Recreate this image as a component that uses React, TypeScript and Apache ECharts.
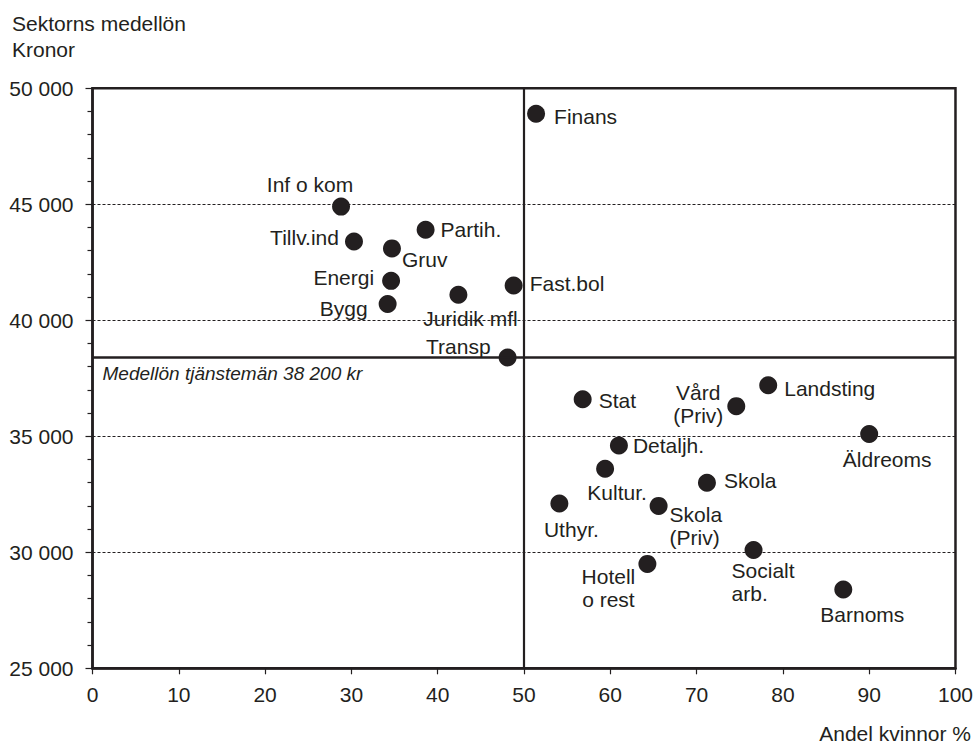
import React, { useEffect, useRef } from "react";
import * as echarts from "echarts";

const sectors = [
  "Finans", "Inf o kom", "Tillv.ind", "Partih.", "Gruv", "Energi", "Bygg",
  "Juridik mfl", "Fast.bol", "Transp", "Stat", "Vård\n(Priv)", "Landsting",
  "Äldreoms", "Detaljh.", "Kultur.", "Skola", "Uthyr.", "Skola\n(Priv)",
  "Socialt\narb.", "Hotell\no rest", "Barnoms",
];
const shareWomen = [
  51.4, 28.8, 30.3, 38.6, 34.7, 34.6, 34.2, 42.4, 48.8, 48.1, 56.8, 74.6, 78.3,
  90.0, 61.0, 59.4, 71.2, 54.1, 65.6, 76.6, 64.3, 87.0,
];
const medianWage = [
  48900, 44900, 43400, 43900, 43100, 41700, 40700, 41100, 41500, 38400, 36600,
  36300, 37200, 35100, 34600, 33600, 33000, 32100, 32000, 30100, 29500, 28400,
];
const averageLine = 38400;
const averageLabel = "Medellön tjänstemän 38 200 kr";
const womenSplit = 50;
const xTicks = { min: 0, max: 100, interval: 10 };
const yTicks = { min: 25000, max: 50000, interval: 5000 };

// label placement: [dx, dy, align] relative to the dot centre
const labelLayout: [number, number, string][] = [
  [18, 3, "left"], [-31, -22, "center"], [-15, -4, "right"], [15, 0, "left"],
  [10, 11, "left"], [-17, -3, "right"], [-20, 4, "right"], [12, 24, "center"],
  [16, -2, "left"], [-17, -11, "right"], [16, 1, "left"], [-38, -2, "center"],
  [16, 3, "left"], [18, 26, "center"], [14, 0, "left"], [12, 24, "center"],
  [17, -2, "left"], [12, 26, "center"], [11, 20, "left"], [-22, 32, "left"],
  [-39, 24, "center"], [19, 25, "center"],
];

const INK = "#231f20";
const FONT = "'Liberation Sans', Arial, Helvetica, sans-serif";
const FS = 21;

const fmt = (v: number) => String(v).replace(/\B(?=(\d{3})+(?!\d))/g, " ");

export default function App() {
  const ref = useRef<HTMLDivElement>(null);
  useEffect(() => {
    if (!ref.current) return;
    const chart = echarts.init(ref.current, undefined, { renderer: "svg" });
    const data = sectors.map((name, i) => ({
      name,
      value: [shareWomen[i], medianWage[i]],
      label: {
        show: true,
        formatter: name,
        position: "inside",
        align: labelLayout[i][2],
        verticalAlign: "middle",
        offset: [labelLayout[i][0], labelLayout[i][1]],
        color: INK,
        fontSize: FS,
        fontFamily: FONT,
        lineHeight: 23,
      },
    }));
    chart.setOption({
      animation: false,
      backgroundColor: "#ffffff",
      textStyle: { fontFamily: FONT, color: INK },
      grid: {
        left: 92.5,
        top: 88.3,
        width: 863,
        height: 580,
        show: true,
        borderColor: INK,
        borderWidth: 2.5,
        backgroundColor: "transparent",
      },
      xAxis: {
        type: "value",
        min: xTicks.min,
        max: xTicks.max,
        interval: xTicks.interval,
        axisLine: { show: true, lineStyle: { color: INK, width: 2.5 } },
        axisTick: { show: true, length: 6, lineStyle: { color: INK, width: 1.2 } },
        axisLabel: { color: INK, fontSize: FS, fontFamily: FONT, margin: 16 },
        splitLine: { show: false },
      },
      yAxis: {
        type: "value",
        min: yTicks.min,
        max: yTicks.max,
        interval: yTicks.interval,
        axisLine: { show: true, lineStyle: { color: INK, width: 2.5 } },
        axisTick: { show: true, length: 7, lineStyle: { color: INK, width: 1.2 } },
        minorTick: { show: true, splitNumber: 5, length: 5, lineStyle: { color: INK, width: 1.2 } },
        axisLabel: {
          color: INK,
          fontSize: FS,
          fontFamily: FONT,
          margin: 19,
          formatter: (v: number) => fmt(v),
        },
        splitLine: {
          show: true,
          lineStyle: { color: INK, width: 1, type: [3, 2] },
        },
      },
      graphic: [
        {
          type: "text",
          left: 12,
          top: 10,
          style: {
            text: "Sektorns medellön\nKronor",
            fontSize: FS,
            lineHeight: 26,
            fontFamily: FONT,
            fill: INK,
          },
        },
        {
          type: "text",
          right: 5,
          top: 723,
          style: {
            text: "Andel kvinnor %",
            fontSize: FS,
            fontFamily: FONT,
            fill: INK,
          },
        },
      ],
      series: [
        {
          type: "scatter",
          data: [],
          z: 1,
          markLine: {
            silent: true,
            symbol: "none",
            animation: false,
            data: [
              {
                yAxis: averageLine,
                lineStyle: { color: INK, width: 2.5, type: "solid" },
                label: {
                  show: true,
                  position: "insideStartBottom",
                  distance: [10, 7],
                  formatter: averageLabel,
                  fontStyle: "italic",
                  fontSize: 19,
                  fontFamily: FONT,
                  color: INK,
                },
              },
              {
                xAxis: womenSplit,
                lineStyle: { color: INK, width: 2.2, type: "solid" },
                label: { show: false },
              },
            ],
          },
        },
        {
          type: "scatter",
          z: 3,
          symbol: "circle",
          symbolSize: 18,
          itemStyle: { color: INK, opacity: 1 },
          data,
        },
      ],
    });
    return () => chart.dispose();
  }, []);
  return (
    <div
      ref={ref}
      style={{ position: "fixed", left: 0, top: 0, width: 976, height: 746 }}
    />
  );
}
